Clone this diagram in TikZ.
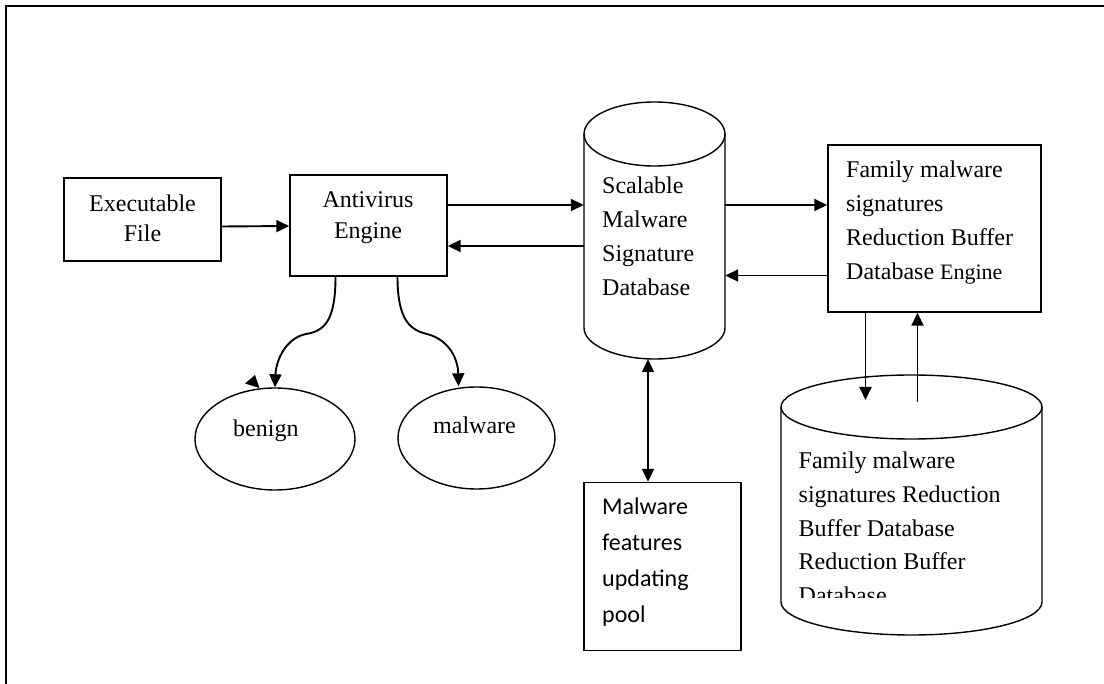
\documentclass[tikz,border=0pt]{standalone}
\usepackage{fontspec}
\setmainfont{Liberation Serif}
\newfontfamily\calibrifont{Carlito}
\usetikzlibrary{arrows.meta,calc,shapes.geometric}

% left-aligned or centred stack of lines; the node's base anchor is the first baseline
\newcommand{\leftstack}[2]{\parbox[t]{#1}{\raggedright #2}}
\newcommand{\midstack}[2]{\parbox[t]{#1}{\centering #2}}

\tikzset{
  box/.style={draw, line width=1.4pt, rectangle, inner sep=0pt},
  ghost/.style={rectangle, inner sep=0pt},
  oval/.style={draw, line width=1.4pt, ellipse, inner sep=0pt},
  outline/.style={draw, line width=1.4pt},
  tip/.style={Triangle[length=13pt,width=12pt]},
  arr/.style={line width=1.9pt, -{Triangle[length=13pt,width=12pt]}},
  dblarr/.style={line width=1.9pt, {Triangle[length=13pt,width=12pt]}-{Triangle[length=13pt,width=12pt]}},
  label24/.style={inner sep=0pt, anchor=base west, font=\fontsize{24}{34}\selectfont},
}

\begin{document}
\begin{tikzpicture}[x=1pt, y=-1pt]
\useasboundingbox (0,0) rectangle (1104,684);
\fill[white] (0,0) rectangle (1104,684);

% open page frame (top and left edges)
\draw[line width=2pt] (1104,6) -- (6,6) -- (6,684);

% ---- boxes ----
\node[box, minimum width=157pt, minimum height=83pt] (exe) at (142.5,219.5) {};
\node[inner sep=0pt, anchor=base, font=\fontsize{24}{30}\selectfont] (exetxt) at (142.5,211.5)
  {\midstack{150pt}{Executable\\File}};

\node[box, minimum width=157pt, minimum height=101pt] (av) at (368.5,225.5) {};
\node[inner sep=0pt, anchor=base, font=\fontsize{24}{30.5}\selectfont] (avtxt) at (368,208)
  {\midstack{150pt}{Antivirus\\Engine}};

\node[box, minimum width=213pt, minimum height=167pt] (fam) at (934.5,228.5) {};
\node[label24] (famtxt) at (846,177.5)
  {\leftstack{200pt}{Family malware\\signatures\\Reduction Buffer\\Database {\fontsize{22}{34}\selectfont Engine}}};

\node[box, minimum width=157pt, minimum height=168pt] (pool) at (662.5,566.5) {};
\node[inner sep=0pt, anchor=base west, font=\calibrifont\fontsize{24}{35.7}\selectfont] (pooltxt) at (602,515)
  {\leftstack{140pt}{Malware\\features\\updating\\pool}};

% ---- Scalable Malware Signature Database (cylinder) ----
\node[ghost, minimum width=141pt, minimum height=257pt] (sms) at (654.5,230.5) {};
\draw[outline] (654.5,134) ellipse [x radius=70.5pt, y radius=32pt];
\draw[outline] (584,134) -- (584,328)
  .. controls (584,344.6) and (615.6,359) .. (654.5,359)
  .. controls (693.4,359) and (725,344.6) .. (725,328) -- (725,134);
\node[label24] (smstxt) at (602,193.5)
  {\leftstack{120pt}{Scalable\\Malware\\Signature\\Database}};

% ---- Family malware signatures Reduction Buffer Database (cylinder) ----
\node[ghost, minimum width=261pt, minimum height=260pt] (db) at (911.5,505) {};
\draw[outline] (911.5,407) ellipse [x radius=130.5pt, y radius=32pt];
\draw[outline] (781,407) -- (781,602)
  .. controls (781,620.2) and (839.4,635) .. (911.5,635)
  .. controls (983.6,635) and (1042,620.2) .. (1042,602) -- (1042,407);
\begin{scope}
  \clip (785,440) rectangle (1038,597.5);
  \node[label24, font=\fontsize{24}{33.8}\selectfont] (dbtxt) at (798.5,468.5)
    {\leftstack{235pt}{Family malware\\signatures Reduction\\Buffer Database\\Reduction Buffer\\Database}};
\end{scope}

% ---- result ovals ----
\node[oval, minimum width=160pt, minimum height=102pt] (ben) at (275,439) {};
\node[inner sep=0pt, anchor=base west, font=\fontsize{24}{30}\selectfont] (bentxt) at (233,437) {benign};
\node[oval, minimum width=157pt, minimum height=102pt] (mal) at (476.5,438) {};
\node[inner sep=0pt, anchor=base west, font=\fontsize{24}{30}\selectfont] (maltxt) at (433,434) {malware};

% ---- connectors ----
\draw[arr] ([yshift=-7pt]exe.east) -- ([yshift=-0.5pt]av.west);
\draw[arr] ([yshift=20.5pt]av.east) -- ([yshift=25.5pt]sms.west);
\draw[arr] ([yshift=-15.5pt]sms.west) -- ([yshift=-20.5pt]av.east);
\draw[arr] ([yshift=25.5pt]sms.east) -- ([yshift=23.5pt]fam.west);
\draw[arr] ([yshift=-47pt]fam.west) -- ([yshift=-45pt]sms.east);
\draw[dblarr] ([xshift=-6.5pt]sms.south) -- ([xshift=-6.5pt]sms.south |- pool.north);

\coordinate (dn) at (865.5,400);
\coordinate (upc) at (917.5,402);
\draw[arr] (dn |- fam.south) -- (dn);
\draw[line width=1.9pt, {Triangle[length=13pt,width=12pt]}-] (upc |- fam.south) -- (upc);

% verdict curves from the antivirus engine
\draw[arr] ([xshift=-33pt]av.south)
  .. controls (335.5,320) and (325,331) .. (306,334)
  .. controls (286,338) and (276,360) .. (ben.north);
\draw[arr] ([xshift=29pt]av.south)
  .. controls (397.5,320) and (410,330) .. (427,334)
  .. controls (450,340) and (458,360) .. ([xshift=-18pt]mal.north);

% loose arrowhead beside the benign oval
\fill (245,383.5) -- (255,375) -- (259.5,388) -- cycle;
\end{tikzpicture}
\end{document}
